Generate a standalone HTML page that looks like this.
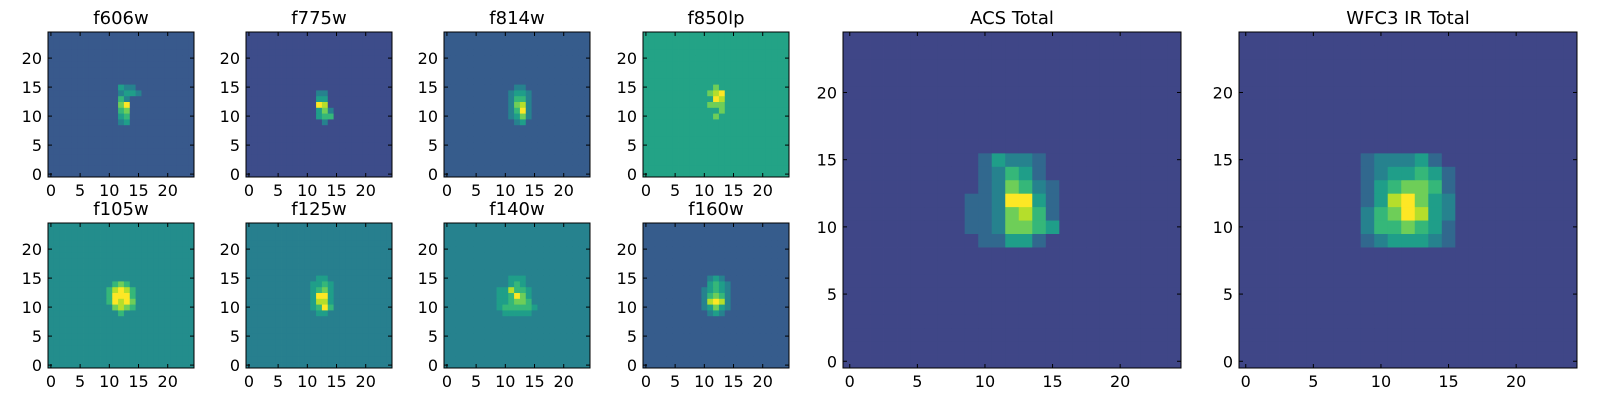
<!DOCTYPE html>
<html><head><meta charset="utf-8">
<style>
html,body{margin:0;padding:0;background:#fff;}
svg{display:block;font-family:"DejaVu Sans","Liberation Sans",sans-serif;}
</style></head>
<body>
<svg id="fig" width="1600" height="400" viewBox="0 0 1600 400" xmlns="http://www.w3.org/2000/svg"></svg>
<script>
// Axis tick values
const tickValues = [0, 5, 10, 15, 20];
const nCells = 25;
// Panel titles
const titles = ["f606w","f775w","f814w","f850lp","f105w","f125w","f140w","f160w","ACS Total","WFC3 IR Total"];
// Background level per panel (0-9 scale)
const bgLevels = [2.5,2.1,2.6,5.2,4.4,3.9,4.0,2.6,1.9,1.9];
// Core grids: rows y=15..9, columns x=9..15 (0-9 scale)
const coreF606 = ["3335443","3334554","3336433","3337933","3336733","3335633","3334533"];
const coreF775 = ["2223322","2224432","2225532","2339832","2235742","2235662","2223432"];
const coreF814 = ["3334433","3345543","3346643","3347843","3346943","3345743","3334533"];
const coreF850 = ["5667665","5678965","5669865","5677765","5566765","5567655","5556655"];
const coreF105 = ["4455544","4567654","5689865","5699965","5698975","4578764","4456544"];
const coreF125 = ["4445544","4455654","4456754","4459954","4458854","4456964","4445544"];
const coreF140 = ["4455544","4456544","5586654","5569754","5567764","5666665","4555554"];
const coreF160 = ["3345433","3356543","3456543","3467643","3489843","3457543","3345433"];
const coreACS  = ["2354432","2346532","2347643","3349953","3347863","3347765","2335532"];
const coreWFC3 = ["3444532","3455653","3567763","3589754","4679854","4667653","3455543"];
const cores = [coreF606,coreF775,coreF814,coreF850,coreF105,coreF125,coreF140,coreF160,coreACS,coreWFC3];
const coreX0 = 9, coreYTop = 15;

const layout = [
 [48,32,146,145],[246,32,146,145],[444,32,146,145],[643,32,146,145],
 [48,223,146,145],[246,223,146,145],[444,223,146,145],[643,223,146,145],
 [843,32,338,336],[1239,32,338,336]
];
const vir = ["#440154","#482878","#3e4989","#31688e","#26828e","#1f9e89","#35b779","#6ece58","#b5de2b","#fde725"];
function hex(c){return [parseInt(c.slice(1,3),16),parseInt(c.slice(3,5),16),parseInt(c.slice(5,7),16)];}
function viridis(t){t=Math.max(0,Math.min(1,t));const p=t*9,i=Math.min(8,Math.floor(p)),f=p-i;
 const a=hex(vir[i]),b=hex(vir[i+1]);return "rgb("+a.map((v,k)=>Math.round(v+(b[k]-v)*f)).join(",")+")";}
const NS="http://www.w3.org/2000/svg";
const svg=document.getElementById("fig");
function mk(tag,attrs,parent){const e=document.createElementNS(NS,tag);for(const k in attrs)e.setAttribute(k,attrs[k]);(parent||svg).appendChild(e);return e;}
const slug=s=>s.toLowerCase().replace(/[^a-z0-9]+/g,"-");
titles.forEach((t,p)=>{
 const [X,Y,W,H]=layout[p];
 const g=mk("g",{});
 
 
 const xs=v=>X+(v+0.5)/nCells*W;
 const ys=v=>Y+H-(v+0.5)/nCells*H;
 const cw=W/nCells, ch=H/nCells;
 const bg=bgLevels[p];
 for(let r=0;r<nCells;r++){for(let c=0;c<nCells;c++){
   let lvl=bg;
   const ri=coreYTop-r, ci=c-coreX0;
   if(ri>=0&&ri<cores[p].length&&ci>=0&&ci<7){const d=+cores[p][ri][ci]; if(d>Math.ceil(bg)) lvl=d;}
   const cell=mk("rect",{x:(xs(c)-cw/2).toFixed(2),y:(ys(r)-ch/2).toFixed(2),width:(cw+0.4).toFixed(2),height:(ch+0.4).toFixed(2),fill:viridis(lvl/9)},g);
   
   
 }}
 const fr=mk("rect",{x:X,y:Y,width:W,height:H,fill:"none",stroke:"#000","stroke-width":1},g);
 
 
 tickValues.forEach(v=>{
   const x=xs(v), y=ys(v);
   mk("line",{x1:x,y1:Y+H,x2:x,y2:Y+H-4,stroke:"#000"},g);
   mk("line",{x1:x,y1:Y,x2:x,y2:Y+4,stroke:"#000"},g);
   mk("line",{x1:X,y1:y,x2:X+4,y2:y,stroke:"#000"},g);
   mk("line",{x1:X+W,y1:y,x2:X+W-4,y2:y,stroke:"#000"},g);
   const xl=mk("text",{x:x,y:Y+H+19,"font-size":16,"text-anchor":"middle",fill:"#000"},g);
   xl.textContent=v;
   
   
   const yl=mk("text",{x:X-6,y:y+6,"font-size":16,"text-anchor":"end",fill:"#000"},g);
   yl.textContent=v;
   
   
 });
 const tt=mk("text",{x:X+W/2,y:Y-8,"font-size":18,"text-anchor":"middle",fill:"#000"},g);
 tt.textContent=t;
 
 
});
</script>
</body></html>
